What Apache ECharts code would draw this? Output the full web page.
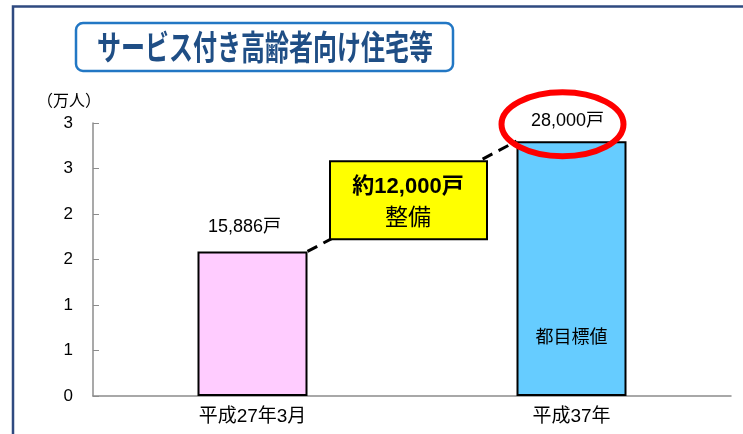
<!DOCTYPE html>
<html>
<head>
<meta charset="utf-8">
<script src="https://cdn.jsdelivr.net/npm/echarts@6/dist/echarts.min.js"></script>
<style>
html,body{margin:0;padding:0;background:#fff;}
#main{width:743px;height:434px;}
</style>
</head>
<body>
<div id="main"></div>
<script>
var categories = ['平成27年3月', '平成37年'];
var values = [1.5886, 2.8]; // 万戸
var valueLabels = ['15,886戸', '28,000戸'];
var barColors = ['#FFCCFF', '#66CCFF'];
var yTickLabels = ['0', '1', '1', '2', '2', '3', '3'];
var titleText = 'サービス付き高齢者向け住宅等';
var unitText = '（万人）';
var noteLines = ['約12,000戸', '整備'];
var insideText = '都目標値';
var insideValue = 0.66;

var font = '"Liberation Sans", Arial, "Noto Sans CJK JP", sans-serif';
var barWidth = 110;

var chart = echarts.init(document.getElementById('main'));
var option = {
    animation: false,
    grid: {left: 93, right: 12, top: 123, bottom: 38},
    xAxis: {
        type: 'category',
        data: categories,
        axisLine: {lineStyle: {color: '#8c8c8c', width: 1.5}},
        axisTick: {inside: true, length: 6, lineStyle: {color: '#8c8c8c'}},
        axisLabel: {color: '#000', fontSize: 19, fontFamily: font, margin: 11}
    },
    yAxis: {
        type: 'value',
        min: 0,
        max: 3,
        interval: 0.5,
        splitLine: {show: false},
        axisLine: {show: true, lineStyle: {color: '#8c8c8c', width: 1.5}},
        axisTick: {show: true, inside: true, length: 6, lineStyle: {color: '#8c8c8c'}},
        axisLabel: {
            color: '#000', fontSize: 17, fontFamily: font, margin: 20,
            formatter: function (v) { return yTickLabels[Math.round(v / 0.5)]; }
        }
    },
    series: [{
        type: 'bar',
        barWidth: barWidth,
        z: 3,
        data: values.map(function (v, i) {
            return {
                value: v,
                itemStyle: {color: barColors[i], borderColor: '#000', borderWidth: 2},
                label: {
                    show: true, position: 'top', distance: i === 0 ? 15 : 11,
                    offset: i === 0 ? [-8, 0] : [-4, 0],
                    formatter: valueLabels[i], color: '#000', fontSize: 18, fontFamily: font
                }
            };
        })
    }]
};
chart.setOption(option);

// annotations positioned through the chart's own coordinate system
var p1 = chart.convertToPixel({gridIndex: 0}, [0, values[0]]);
var p2 = chart.convertToPixel({gridIndex: 0}, [1, values[1]]);
var pIn = chart.convertToPixel({gridIndex: 0}, [1, insideValue]);
var a = [p1[0] + barWidth / 2, p1[1]];
var b = [p2[0] - barWidth / 2, p2[1]];
var mid = [(a[0] + b[0]) / 2 - 4, (a[1] + b[1]) / 2 + 4];

chart.setOption({
    graphic: [
        // outer frame
        {type: 'polyline', z: 10, shape: {points: [[13, 434], [13, 6.5], [743, 6.5]]},
            style: {stroke: '#2f4a80', lineWidth: 2.5, fill: null}},
        // title box
        {type: 'rect', z: 10, shape: {x: 76, y: 23, width: 377, height: 48, r: 7},
            style: {fill: '#fff', stroke: '#2277c4', lineWidth: 2.5}},
        {type: 'group', x: 265, y: 47, scaleX: 1, scaleY: 1.4, children: [
            {type: 'text', z: 11, x: 0, y: 0,
                style: {text: titleText, fill: '#1f4e85', font: 'bold 24px "Noto Sans CJK JP"',
                    textAlign: 'center', textVerticalAlign: 'middle'}}
        ]},
        {type: 'text', z: 11, x: 37, y: 100,
            style: {text: unitText, fill: '#000', font: '16px "Noto Sans CJK JP"', textVerticalAlign: 'middle'}},
        // dashed connector
        {type: 'line', z: 5, shape: {x1: a[0], y1: a[1], x2: b[0], y2: b[1]},
            style: {stroke: '#000', lineWidth: 3, lineDash: [11, 7]}},
        // yellow note
        {type: 'rect', z: 6, shape: {x: mid[0] - 78, y: mid[1] - 39, width: 157, height: 78},
            style: {fill: '#FFFF00', stroke: '#000', lineWidth: 2}},
        {type: 'text', z: 7, x: mid[0], y: mid[1] - 13,
            style: {text: noteLines[0], fill: '#000', font: 'bold 22px "Liberation Sans", "Noto Sans CJK JP"',
                textAlign: 'center', textVerticalAlign: 'middle'}},
        {type: 'text', z: 7, x: mid[0], y: mid[1] + 16,
            style: {text: noteLines[1], fill: '#000', font: '23px "Noto Sans CJK JP"',
                textAlign: 'center', textVerticalAlign: 'middle'}},
        // label inside bar 2
        {type: 'text', z: 7, x: pIn[0], y: pIn[1],
            style: {text: insideText, fill: '#000', font: '18px "Noto Sans CJK JP"',
                textAlign: 'center', textVerticalAlign: 'middle'}},
        // red ellipse
        {type: 'ellipse', z: 8, shape: {cx: p2[0] - 9, cy: p2[1] - 17, rx: 61, ry: 32},
            style: {fill: null, stroke: '#FF0000', lineWidth: 6}}
    ]
});
</script>
</body>
</html>
